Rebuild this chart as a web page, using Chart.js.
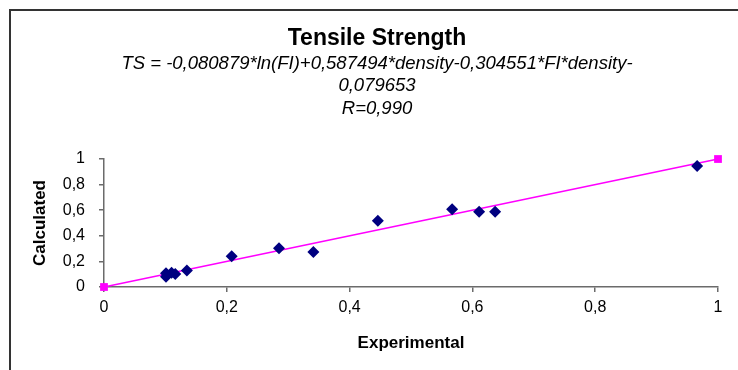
<!DOCTYPE html>
<html>
<head>
<meta charset="utf-8">
<title>Tensile Strength</title>
<script src="https://cdn.jsdelivr.net/npm/chart.js@4.4.1/dist/chart.umd.min.js"></script>
<style>
    html, body { margin: 0; padding: 0; background: #fff; overflow: hidden; }
    #wrap { position: relative; width: 738px; height: 370px; overflow: hidden; }
    #frame { position: absolute; left: 9px; top: 9px; width: 800px; height: 420px; border: 2px solid #333; }
    #chart { position: absolute; left: 0; top: 0; }
</style>
</head>
<body>
<div id="wrap">
    <div id="frame"></div>
    <canvas id="chart" width="754" height="370"></canvas>
</div>
<script>
// Valores experimentales (eje x) y calculados (eje y)
var experimental = [0.101, 0.101, 0.110, 0.116, 0.135, 0.208, 0.285, 0.341, 0.446, 0.567, 0.611, 0.637, 0.966];
var calculated = [0.107, 0.081, 0.112, 0.102, 0.128, 0.240, 0.303, 0.274, 0.517, 0.608, 0.587, 0.587, 0.945];
// Recta ideal y = x
var idealX = [0, 1];
var idealY = [0, 1];
// Marcas de los ejes
var tickValues = [0, 0.2, 0.4, 0.6, 0.8, 1];

var titleText = 'Tensile Strength';
var subtitleText = [
    'TS = -0,080879*ln(FI)+0,587494*density-0,304551*FI*density-',
    '0,079653',
    'R=0,990'
];

var fontFamily = "'Liberation Sans', Arial, Helvetica, sans-serif";
var axisColor = '#6b6b6b';

function commaLabel(v) {
    return String(+Number(v).toFixed(1)).replace('.', ',');
}

function setTicks(scale) {
    scale.ticks = tickValues.map(function (v) { return { value: v }; });
}

var points = [];
for (var i = 0; i < experimental.length; i++) {
    points.push({ x: experimental[i], y: calculated[i] });
}
var ideal = [];
for (var j = 0; j < idealX.length; j++) {
    ideal.push({ x: idealX[j], y: idealY[j] });
}

new Chart(document.getElementById('chart').getContext('2d'), {
    type: 'scatter',
    data: {
        datasets: [
            {
                label: 'Calculated',
                data: points,
                pointStyle: 'rectRot',
                pointRadius: 6,
                backgroundColor: '#000080',
                borderColor: '#000080',
                borderWidth: 0,
                showLine: false,
                clip: false
            },
            {
                label: 'Ideal',
                data: ideal,
                showLine: true,
                borderColor: '#ff00ff',
                borderWidth: 1.5,
                pointStyle: 'rect',
                pointRadius: 5.5,
                backgroundColor: '#ff00ff',
                pointBorderWidth: 0,
                clip: false
            }
        ]
    },
    options: {
        responsive: false,
        animation: false,
        layout: { padding: 0 },
        plugins: {
            legend: { display: false },
            tooltip: { enabled: false },
            title: {
                display: true,
                text: titleText,
                color: '#000',
                font: { family: fontFamily, size: 23, weight: 'bold', lineHeight: 1.2 },
                padding: { top: 24.5, bottom: 0 }
            },
            subtitle: {
                display: true,
                text: subtitleText,
                color: '#000',
                font: { family: fontFamily, size: 18.5, style: 'italic', lineHeight: 1.22 },
                padding: { top: 0, bottom: 39.2 }
            }
        },
        scales: {
            x: {
                type: 'linear',
                position: 'bottom',
                min: 0,
                max: 1,
                afterBuildTicks: setTicks,
                afterFit: function (s) { s.height = 83; },
                grid: { drawOnChartArea: false, tickLength: 5, color: axisColor, lineWidth: 1.5 },
                border: { color: axisColor, width: 1.5 },
                ticks: {
                    padding: 6,
                    color: '#000',
                    maxRotation: 0,
                    autoSkip: false,
                    font: { family: fontFamily, size: 16 },
                    callback: commaLabel
                },
                title: {
                    display: true,
                    text: 'Experimental',
                    color: '#000',
                    font: { family: fontFamily, size: 17, weight: 'bold', lineHeight: 1.2 },
                    padding: { top: 0, bottom: 16.8 }
                }
            },
            y: {
                type: 'linear',
                position: 'left',
                min: 0,
                max: 1,
                afterBuildTicks: setTicks,
                afterFit: function (s) { s.width = 104; },
                grid: { drawOnChartArea: false, tickLength: 5, color: axisColor, lineWidth: 1.5 },
                border: { color: axisColor, width: 1.5 },
                ticks: {
                    padding: 14,
                    color: '#000',
                    autoSkip: false,
                    font: { family: fontFamily, size: 16 },
                    callback: commaLabel
                },
                title: {
                    display: true,
                    text: 'Calculated',
                    color: '#000',
                    font: { family: fontFamily, size: 17, weight: 'bold', lineHeight: 1.2 },
                    padding: { top: 29.8, bottom: 0 }
                }
            },
            // eje vacio a la derecha para centrar el titulo como en el original
            y2: {
                position: 'right',
                display: true,
                grid: { display: false },
                border: { display: false },
                ticks: { display: false },
                afterFit: function (s) { s.width = 36; }
            }
        }
    }
});
</script>
</body>
</html>
